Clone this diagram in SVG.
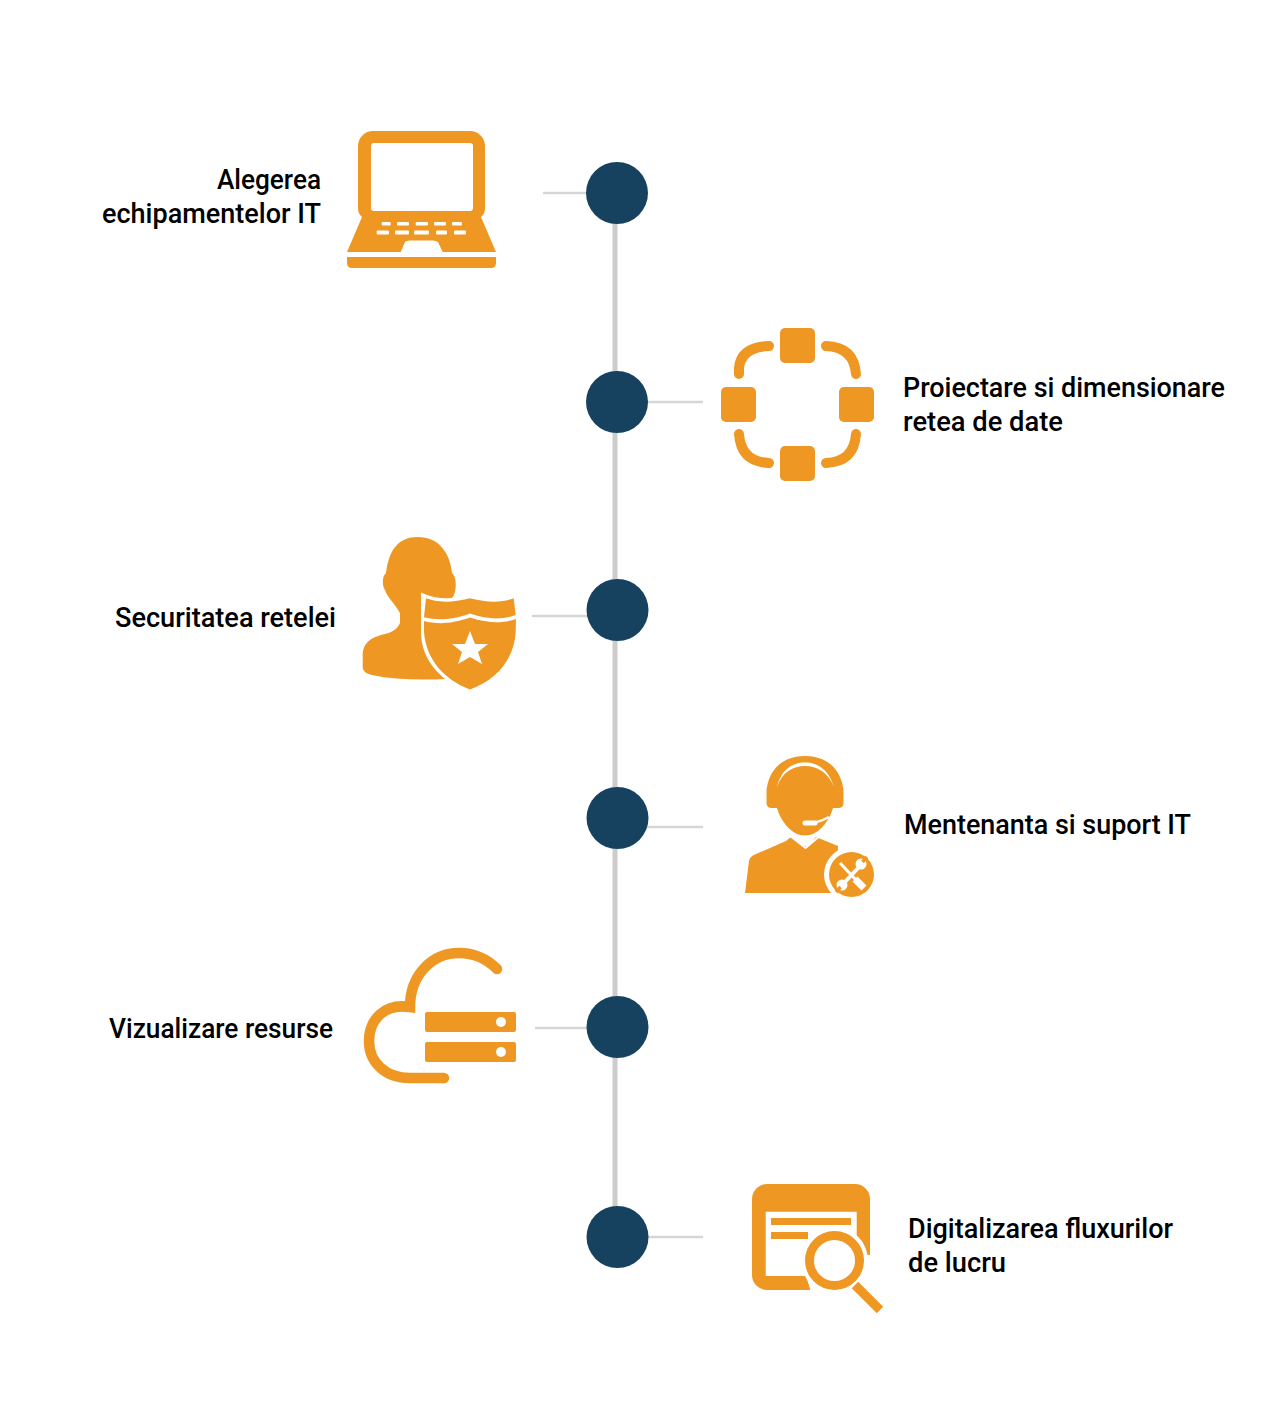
<svg xmlns="http://www.w3.org/2000/svg" width="1270" height="1420" viewBox="0 0 1270 1420">
<style>
.o{fill:#ee9723}
.w{fill:#fff}
.t{font-family:"Roboto","Liberation Sans",sans-serif;font-size:28px;font-weight:500;fill:#000}
.stub{stroke:#d6d6d6;stroke-width:2.5;fill:none}
.spine{stroke:#cccccc;stroke-width:5;fill:none}
.dot{fill:#16425f}
.ol{fill:none;stroke:#ee9723;stroke-linecap:round}
</style>
<rect width="1270" height="1420" fill="#fff"/>
<g id="connectors">
<line class="spine" x1="615" y1="193" x2="615" y2="1237"/>
<line class="stub" x1="543" y1="193" x2="590" y2="193"/>
<line class="stub" x1="645" y1="402" x2="703" y2="402"/>
<line class="stub" x1="532" y1="616" x2="590" y2="616"/>
<line class="stub" x1="645" y1="827" x2="703" y2="827"/>
<line class="stub" x1="535" y1="1028" x2="590" y2="1028"/>
<line class="stub" x1="645" y1="1237" x2="703" y2="1237"/>
</g>
<g id="node1">
<circle class="dot" cx="617" cy="193" r="31"/>
<path class="o" d="M373 131H470A15 15 0 0 1 485 146V208Q485 214 481 217L496 252H442.700L438 242Q436 240.500 433 240.500H410Q406 240.500 405 242L400.700 252H347L362 217Q358 214 358 208V146A15 15 0 0 1 373 131Z"/>
<rect class="w" x="371" y="143" width="102" height="68" rx="3"/>
<path class="o" d="M347 257H496V263Q496 268 491 268H352Q347 268 347 263Z"/>
<g class="w">
<rect x="381.700" y="222" width="9" height="3.500" rx="1"/><rect x="397" y="222" width="12" height="3.500" rx="1"/><rect x="415.700" y="222" width="12.300" height="3.500" rx="1"/><rect x="434" y="222" width="12" height="3.500" rx="1"/><rect x="452" y="222" width="10" height="3.500" rx="1"/>
<rect x="376.700" y="230.500" width="12.300" height="4" rx="1"/><rect x="395" y="230.500" width="14" height="4" rx="1"/><rect x="414" y="230.500" width="15" height="4" rx="1"/><rect x="436" y="230.500" width="11" height="4" rx="1"/><rect x="454" y="230.500" width="12" height="4" rx="1"/>
</g>
<text class="t" x="217" y="189" textLength="104" lengthAdjust="spacingAndGlyphs">Alegerea</text>
<text class="t" x="102" y="223" textLength="219" lengthAdjust="spacingAndGlyphs">echipamentelor IT</text>
</g>
<g id="node2">
<circle class="dot" cx="617" cy="402" r="31"/>
<g class="o">
<rect x="780" y="328" width="35" height="35" rx="5"/><rect x="780" y="446" width="35" height="35" rx="5"/><rect x="721" y="387" width="35" height="35" rx="5"/><rect x="839" y="387" width="35" height="35" rx="5"/>
</g>
<g class="ol" stroke-width="10">
<path d="M739 374V368Q741 347 769 346"/><path d="M826 346Q854 347 856 374"/><path d="M739 434Q741 462 769 463"/><path d="M856 434Q854 462 826 463"/>
</g>
<text class="t" x="903" y="397" textLength="322" lengthAdjust="spacingAndGlyphs">Proiectare si dimensionare</text>
<text class="t" x="903" y="431" textLength="160" lengthAdjust="spacingAndGlyphs">retea de date</text>
</g>
<g id="node3">
<circle class="dot" cx="617.500" cy="610" r="31"/>
<path class="o" d="M418 537C398 537 389 550 386 573C382 576 382 586 385 590C387 597 395 604 400 613L400 623C398 628 393 632 385 634C372 637 363 642 362.700 655L362.700 668C364 672 367 674 372 675C395 680 420 680 446 679L452 598C456 595 458 578 452 573C450 552 438 537 418 537Z"/>
<path d="M424 597C436 602 450 603 470 598C490 603 504 602 514 598V632C514 660 496 680 470 690C445 680 424 660 424 632Z" fill="#fff" stroke="#fff" stroke-width="6"/>
<path class="o" d="M426 598.300C436 602 450 603.500 470 598.300C490 603.500 504 602 513.700 598.300L515.700 615C504 619 490 620.500 470 613.500C450 620.700 436 620 424 617.300Z"/>
<path class="o" d="M424 621C436 624 450 624.700 470 617.500C490 624 504 623 516 619L515.700 632C514 660 496 680 470 689.500C445 680 426 660 424 632Z"/>
<polygon class="w" points="470,631 475,644 488,644 478,652 482,664 470,657 458,664 462,652 452,644 465,644"/>
<text class="t" x="115" y="627" textLength="221" lengthAdjust="spacingAndGlyphs">Securitatea retelei</text>
</g>
<g id="node4">
<circle class="dot" cx="617.500" cy="818" r="31"/>
<path class="o" d="M745 893L749 861Q750 856 756 854L786 841L791 837L803 846L808 846L816 837L838 846L836 893Z"/>
<path d="M789 835L805.500 848L821 835" fill="none" stroke="#fff" stroke-width="2"/>
<path class="o" d="M805 756C782 756 770 770 767 787Q766.500 788 766.500 791V803Q766.500 808 772 808H777C781 822 792 835.500 805 835.500C818 835.500 829 822 833 808H838Q843.500 808 843.500 803V791Q843.500 788 843 787C840 770 828 756 805 756Z"/>
<path d="M777 787C781 770 792 762.500 805 762.500C818 762.500 829 770 834 787C828 772 817 766 805 766C793 766 782 772 777 787Z" fill="#fff"/>
<path d="M805.500 823C815 823 822 821 829 817" fill="none" stroke="#fff" stroke-width="2.500"/>
<path d="M805 823H815" fill="none" stroke="#fff" stroke-width="5" stroke-linecap="round"/>
<circle cx="851.500" cy="874.500" r="27.500" fill="#fff"/>
<circle class="o" cx="851.500" cy="874.500" r="22.500"/>
<path d="M843 884L860 866" stroke="#fff" stroke-width="4" fill="none"/>
<circle cx="861" cy="864" r="5.500" fill="#fff"/><circle cx="842" cy="885" r="5.500" fill="#fff"/>
<path d="M862.500 862L867 857M840.500 887L836 892" stroke="#ee9723" stroke-width="3.500" fill="none"/>
<path d="M840 863L856 880" stroke="#fff" stroke-width="3" fill="none"/>
<path d="M855 879L864 888" stroke="#fff" stroke-width="7" fill="none"/>
<text class="t" x="904" y="834" textLength="287" lengthAdjust="spacingAndGlyphs">Mentenanta si suport IT</text>
</g>
<g id="node5">
<circle class="dot" cx="617.500" cy="1027" r="31"/>
<path class="ol" stroke-width="10.500" d="M497 969C485 957 472 953 459 953C432 953 410 975 410 1007C384 1003 369 1020 369 1041C369 1062 385 1078 410 1078H444"/>
<g class="o">
<rect x="425" y="1012" width="91" height="20" rx="2"/><rect x="425" y="1042" width="91" height="20" rx="2"/>
</g>
<circle class="w" cx="501" cy="1022" r="5"/><circle class="w" cx="501" cy="1052" r="5"/>
<text class="t" x="109" y="1038" textLength="224" lengthAdjust="spacingAndGlyphs">Vizualizare resurse</text>
</g>
<g id="node6">
<circle class="dot" cx="617.500" cy="1237" r="31"/>
<path class="o" d="M767 1184H855A15 15 0 0 1 870 1199V1290H767A15 15 0 0 1 752 1275V1199A15 15 0 0 1 767 1184Z"/>
<path class="w" d="M765.700 1211.700H856.700V1255L872 1255V1295H812L806 1276H765.700Z"/>
<rect class="o" x="771" y="1218" width="80" height="7"/>
<rect class="o" x="771" y="1232" width="37" height="7"/>
<circle cx="834.500" cy="1260.500" r="33.500" fill="#fff"/>
<circle cx="834.500" cy="1260.500" r="25" fill="#fff" stroke="#ee9723" stroke-width="9"/>
<path d="M855 1285L880 1310" stroke="#ee9723" stroke-width="9" fill="none"/>
<text class="t" x="908" y="1238" textLength="265" lengthAdjust="spacingAndGlyphs">Digitalizarea fluxurilor</text>
<text class="t" x="908" y="1272" textLength="98" lengthAdjust="spacingAndGlyphs">de lucru</text>
</g>
</svg>
